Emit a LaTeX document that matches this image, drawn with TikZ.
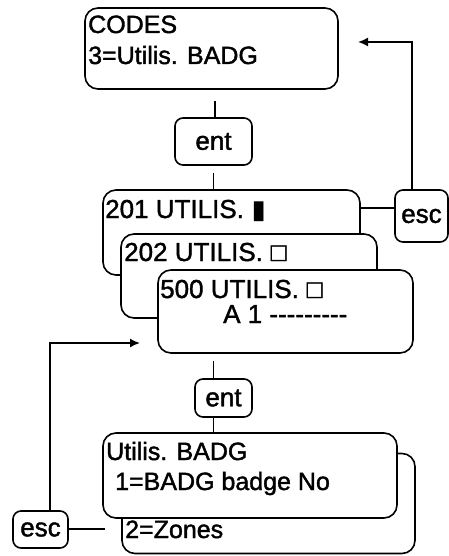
\documentclass[tikz,border=0pt]{standalone}
\usepackage{fontspec}
\setmainfont{Liberation Sans}[Ligatures=TeXOff, FakeBold=1.5]
\newfontfamily\symfont{DejaVu Sans}
\usetikzlibrary{arrows.meta}
\tikzset{
  box/.style={draw, line width=1.6pt, rounded corners=13pt, fill=white, inner sep=0pt},
  key/.style={draw, line width=1.6pt, rounded corners=8pt, fill=white, inner sep=0pt, font=\fontsize{26}{30}\selectfont},
  txt/.style={anchor=base west, inner sep=0pt},
  conn/.style={line width=1.6pt},
  arr/.style={line width=1.6pt, -{Latex[length=10pt,width=9pt]}},
  big/.style={font=\fontsize{25}{30}\selectfont},
  mid/.style={font=\fontsize{26}{30}\selectfont}
}
\begin{document}
\begin{tikzpicture}[x=1pt,y=-1pt]
\useasboundingbox (0,0) rectangle (449,556);
% boxes
\node[box, minimum width=253pt, minimum height=81pt] (codes) at (211.5,48.5) {};
\node[key, minimum width=77pt, minimum height=47pt] (ent1) at (213.5,141.5) {ent};
\node[box, minimum width=257pt, minimum height=85pt] (u201) at (231.5,232.5) {};
\node[box, minimum width=256pt, minimum height=84pt] (u202) at (249,276) {};
\node[box, minimum width=255pt, minimum height=83pt] (u500) at (285.5,311.5) {};
\node[key, minimum width=57pt, minimum height=38pt] (ent2) at (223.5,398) {ent};
\node[box, minimum width=293pt, minimum height=100pt] (back) at (268.5,503.5) {};
\node[box, minimum width=294pt, minimum height=85pt] (front) at (250,475.5) {};
\node[key, minimum width=53pt, minimum height=52pt] (esc1) at (421.5,216) {esc};
\node[key, minimum width=55pt, minimum height=37pt] (esc2) at (40.5,529.5) {esc};
% texts
\node[txt, big] (t1) at (88,33) {CODES};
\node[txt, big] (t2) at (88,64) {3=Utilis. BADG};
\node[txt, mid] (t3) at (105,218) {201 UTILIS.\hspace{0.3em}{\symfont ▮}};
\node[txt, mid] (t4) at (124,261) {202 UTILIS.\hspace{0.3em}□};
\node[txt, mid] (t5) at (160,298) {500 UTILIS.\hspace{0.3em}□};
\node[txt, mid] (t6) at (223,323) {A 1 ---------};
\node[txt, big] (t7) at (106,460) {Utilis. BADG};
\node[txt, big] (t8) at (115,490) {1=BADG badge No};
\node[txt, big] (t9) at (125,538) {2=Zones};
% connectors
\draw[conn, shorten <=11pt] ([xshift=1.5pt]ent1.north |- codes.south) -- ([xshift=1.5pt]ent1.north);
\draw[conn, shorten <=7pt] (ent1.south) -- (ent1.south |- u201.north);
\draw[conn, shorten <=7pt] ([xshift=-10pt]ent2.north |- u500.south) -- ([xshift=-10pt]ent2.north);
\draw[conn] ([xshift=-10pt]ent2.south) -- ([xshift=-10pt]ent2.south |- front.north);
\draw[conn] ([yshift=8pt]esc1.west) -- ([yshift=8pt]esc1.west -| u201.east);
\coordinate (tipA) at (358,42);
\draw[arr] ([xshift=-9.5pt]esc1.north) |- (tipA);
\coordinate (tipB) at (140,343);
\draw[arr] ([xshift=9.5pt]esc2.north) |- (tipB);
\coordinate (endC) at (105,529);
\draw[conn] (esc2.east |- endC) -- (endC);
\end{tikzpicture}
\end{document}
